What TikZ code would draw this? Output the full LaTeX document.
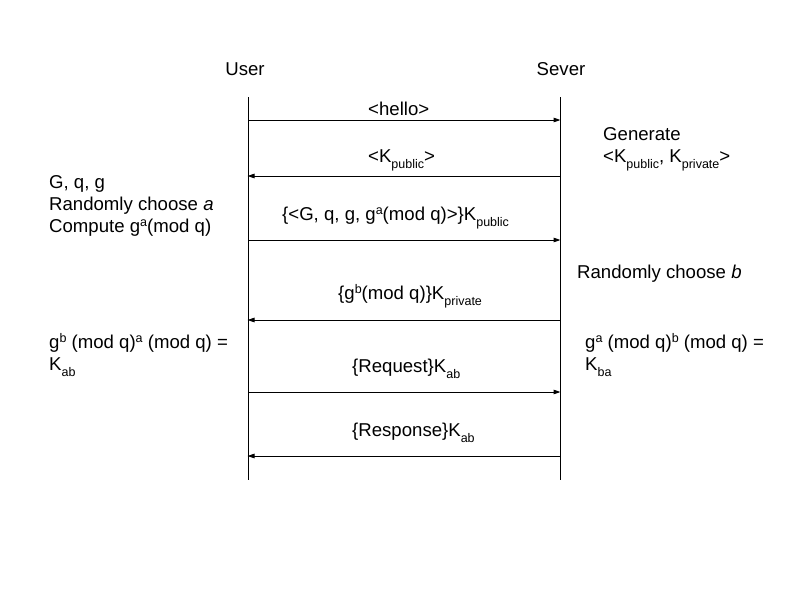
\documentclass[tikz,border=0pt]{standalone}
\usepackage{fontspec}
\setmainfont{Liberation Sans}
\usetikzlibrary{arrows.meta}
\newcommand\subtxt[1]{\raisebox{-6pt}{\fontsize{12.5}{12.5}\selectfont #1}}
\newcommand\suptxt[1]{\raisebox{6pt}{\fontsize{12.5}{12.5}\selectfont #1}}
\begin{document}
\begin{tikzpicture}[x=1pt,y=-1pt,
  txt/.style={inner sep=0pt,anchor=base west,font=\fontsize{18.6}{22}\selectfont},
  hdr/.style={inner sep=0pt,anchor=base,font=\fontsize{18.6}{22}\selectfont},
  life/.style={line width=1pt,black},
  msg/.style={line width=1pt,black,-{Triangle[length=7pt,width=4.5pt]},shorten >=-0.5pt}]
\useasboundingbox (0,0) rectangle (800,600);
% headers
\node[hdr] (user) at (245,75.5) {User};
\node[hdr] (sever) at (561,75.5) {Sever};
% lifelines
\coordinate (u0) at (248,97); \coordinate (u1) at (248,480);
\coordinate (s0) at (560,97); \coordinate (s1) at (560,480);
\draw[life] (u0) -- (u1);
\draw[life] (s0) -- (s1);
% message endpoints
\foreach \i/\y in {1/120,2/176,3/240,4/320,5/392,6/456}{
  \coordinate (ua\i) at (248,\y);
  \coordinate (sa\i) at (560,\y);
}
\draw[msg] (ua1) -- (sa1);
\draw[msg] (sa2) -- (ua2);
\draw[msg] (ua3) -- (sa3);
\draw[msg] (sa4) -- (ua4);
\draw[msg] (ua5) -- (sa5);
\draw[msg] (sa6) -- (ua6);
% message labels
\node[txt] (m1) at (368,115) {<hello>};
\node[txt] (m2) at (368,162) {<K\subtxt{public}>};
\node[txt] (m3) at (282,220) {\{<G, q, g, g\suptxt{a}(mod q)>\}K\subtxt{public}};
\node[txt] (m4) at (338,299) {\{g\suptxt{b}(mod q)\}K\subtxt{private}};
\node[txt] (m5) at (352,372) {\{Request\}K\subtxt{ab}};
\node[txt] (m6) at (352,436) {\{Response\}K\subtxt{ab}};
% user side notes
\node[txt] (l1) at (49,188) {G, q, g};
\node[txt] (l2) at (49,210) {Randomly choose \textit{a}};
\node[txt] (l3) at (49,232) {Compute g\suptxt{a}(mod q)};
\node[txt] (l4) at (49,348) {g\suptxt{b} (mod q)\suptxt{a} (mod q) =};
\node[txt] (l5) at (49,370) {K\subtxt{ab}};
% server side notes
\node[txt] (r1) at (603,140) {Generate};
\node[txt] (r2) at (603,162) {<K\subtxt{public}, K\subtxt{private}>};
\node[txt] (r3) at (577,278) {Randomly choose \textit{b}};
\node[txt] (r4) at (585,348) {g\suptxt{a} (mod q)\suptxt{b} (mod q) =};
\node[txt] (r5) at (585,370) {K\subtxt{ba}};
\end{tikzpicture}
\end{document}
